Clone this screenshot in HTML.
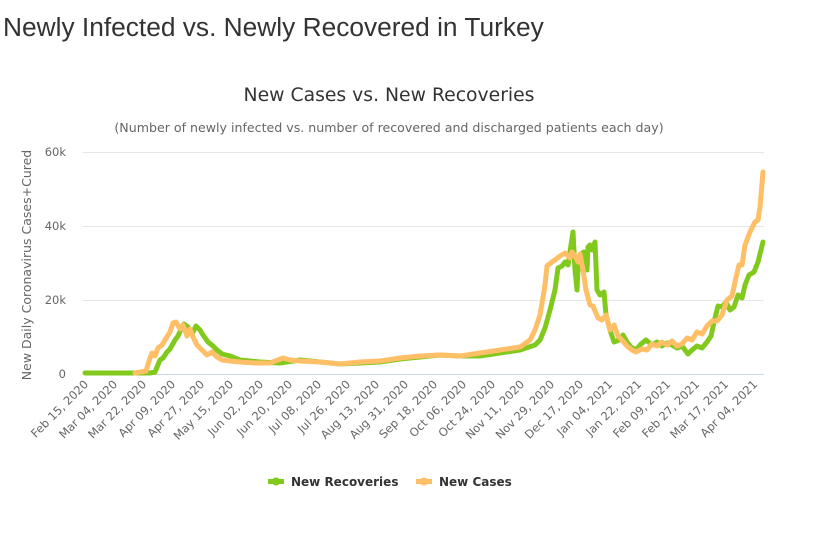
<!DOCTYPE html>
<html><head><meta charset="utf-8"><style>
html,body{margin:0;padding:0;background:#fff;width:816px;height:543px;overflow:hidden}
svg{display:block}
</style></head><body>
<svg width="816" height="543" xmlns="http://www.w3.org/2000/svg" font-family="'DejaVu Sans','Liberation Sans',sans-serif">
<text x="3" y="36" font-family="'Liberation Sans',sans-serif" font-size="26.3" fill="#333">Newly Infected vs. Newly Recovered in Turkey</text>
<text x="389" y="101" text-anchor="middle" font-size="18.8" fill="#333">New Cases vs. New Recoveries</text>
<text x="389" y="132" text-anchor="middle" font-size="12.6" fill="#666">(Number of newly infected vs. number of recovered and discharged patients each day)</text>
<g stroke="#e6e6e6" stroke-width="1">
<line x1="83" y1="152.5" x2="764" y2="152.5"/><line x1="83" y1="226.5" x2="764" y2="226.5"/><line x1="83" y1="300.5" x2="764" y2="300.5"/>
</g>
<line x1="83" y1="374.5" x2="764" y2="374.5" stroke="#ccd6eb"/>
<g font-size="11.5" fill="#666" text-anchor="end">
<text x="66" y="156">60k</text><text x="66" y="230">40k</text><text x="66" y="304">20k</text><text x="66" y="378">0</text>
</g>
<text transform="translate(31,265) rotate(-90)" text-anchor="middle" font-size="12.5" fill="#666">New Daily Coronavirus Cases+Cured</text>
<g fill="none" stroke-width="5" stroke-linejoin="round" stroke-linecap="round">
<polyline stroke="#82c91e" points="85,373 150,373 155,372 160,360 163,358 167,352 170,349 175,340 178,336 182,327 184,324 188,327 192,334 196,326 200,330 203,335 208,342 213,346 217,350 222,354 230,356 240,360 260,362 280,363 300,360 320,362 340,364 360,363 380,362 400,359 420,357 440,355 460,356 480,356 500,353 520,350 535,345 540,340 545,328 550,310 555,290 558,268 562,266 565,262 568,265 571,245 573,232 575,270 577,290 578,268 581,254 584,252 587,270 588,247 590,245 592,250 595,242 597,290 600,295 604,292 606,315 610,330 614,342 619,340 623,335 627,342 631,347 636,350 641,344 646,340 652,345 657,342 662,346 667,343 672,345 677,348 682,346 688,354 692,350 697,346 702,348 707,342 711,336 715,318 718,306 722,307 726,302 730,310 734,307 738,295 742,298 745,285 749,275 754,272 758,262 763,242"/>
<polyline stroke="#ffbf66" points="135,373 140,372 146,371 150,358 152,353 155,356 158,348 162,345 165,340 170,332 173,323 176,322 180,329 183,325 187,336 190,329 193,337 197,345 202,350 207,355 212,352 217,357 222,360 230,361 240,362 255,363 270,363 278,360 283,358 290,360 300,361 320,362 340,364 360,362 380,361 400,358 420,356 440,355 460,356 480,353 500,350 520,347 530,340 535,330 540,315 545,285 547,266 552,262 555,260 560,256 565,253 570,258 572,252 575,256 578,262 580,254 583,270 586,290 590,305 593,306 598,318 602,320 606,315 610,330 614,325 618,336 622,340 627,346 632,350 636,352 642,349 647,350 652,344 657,346 662,342 667,345 672,341 677,346 682,344 687,338 692,340 697,332 702,334 707,326 712,321 717,321 722,315 727,300 732,296 735,282 739,265 742,265 745,245 750,232 755,222 758,220 760,207 763,172"/>
</g>
<g font-size="12" font-weight="bold" fill="#333">
<line x1="268" y1="481.5" x2="284" y2="481.5" stroke="#82c91e" stroke-width="5"/><circle cx="276" cy="481.5" r="4" fill="#82c91e"/>
<text x="291" y="486">New Recoveries</text>
<line x1="416" y1="481.5" x2="432" y2="481.5" stroke="#ffbf66" stroke-width="5"/><circle cx="424" cy="481.5" r="4" fill="#ffbf66"/>
<text x="439" y="486">New Cases</text>
</g>
<g font-size="11.5" fill="#666" text-anchor="end">
<text transform="translate(89,385) rotate(-45)">Feb 15, 2020</text>
<text transform="translate(118,385) rotate(-45)">Mar 04, 2020</text>
<text transform="translate(147,385) rotate(-45)">Mar 22, 2020</text>
<text transform="translate(176,385) rotate(-45)">Apr 09, 2020</text>
<text transform="translate(205,385) rotate(-45)">Apr 27, 2020</text>
<text transform="translate(234,385) rotate(-45)">May 15, 2020</text>
<text transform="translate(264,385) rotate(-45)">Jun 02, 2020</text>
<text transform="translate(293,385) rotate(-45)">Jun 20, 2020</text>
<text transform="translate(322,385) rotate(-45)">Jul 08, 2020</text>
<text transform="translate(351,385) rotate(-45)">Jul 26, 2020</text>
<text transform="translate(380,385) rotate(-45)">Aug 13, 2020</text>
<text transform="translate(409,385) rotate(-45)">Aug 31, 2020</text>
<text transform="translate(438,385) rotate(-45)">Sep 18, 2020</text>
<text transform="translate(467,385) rotate(-45)">Oct 06, 2020</text>
<text transform="translate(496,385) rotate(-45)">Oct 24, 2020</text>
<text transform="translate(525,385) rotate(-45)">Nov 11, 2020</text>
<text transform="translate(555,385) rotate(-45)">Nov 29, 2020</text>
<text transform="translate(584,385) rotate(-45)">Dec 17, 2020</text>
<text transform="translate(613,385) rotate(-45)">Jan 04, 2021</text>
<text transform="translate(642,385) rotate(-45)">Jan 22, 2021</text>
<text transform="translate(671,385) rotate(-45)">Feb 09, 2021</text>
<text transform="translate(700,385) rotate(-45)">Feb 27, 2021</text>
<text transform="translate(729,385) rotate(-45)">Mar 17, 2021</text>
<text transform="translate(758,385) rotate(-45)">Apr 04, 2021</text>
</g>
</svg>
</body></html>
